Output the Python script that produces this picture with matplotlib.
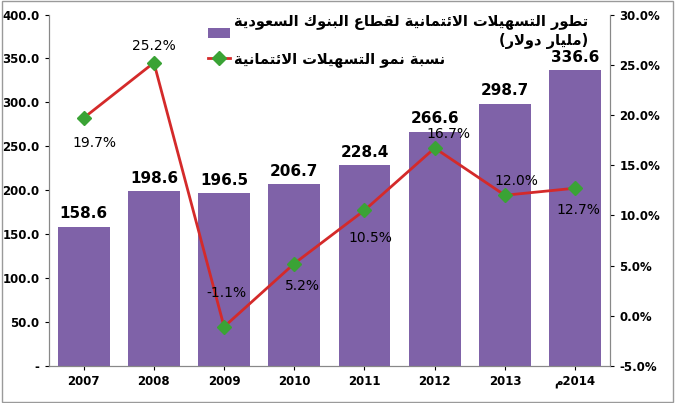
import matplotlib.pyplot as plt
from matplotlib.patches import Rectangle

# minimal arabic shaping (matplotlib has no complex text layout)
FORMS = {
    'ا': (0xFE8D, 0xFE8E, None, None), 'ب': (0xFE8F, 0xFE90, 0xFE91, 0xFE92),
    'ة': (0xFE93, 0xFE94, None, None), 'ت': (0xFE95, 0xFE96, 0xFE97, 0xFE98),
    'د': (0xFEA9, 0xFEAA, None, None), 'ر': (0xFEAD, 0xFEAE, None, None),
    'س': (0xFEB1, 0xFEB2, 0xFEB3, 0xFEB4), 'ط': (0xFEC1, 0xFEC2, 0xFEC3, 0xFEC4),
    'ع': (0xFEC9, 0xFECA, 0xFECB, 0xFECC), 'ق': (0xFED5, 0xFED6, 0xFED7, 0xFED8),
    'ك': (0xFED9, 0xFEDA, 0xFEDB, 0xFEDC), 'ل': (0xFEDD, 0xFEDE, 0xFEDF, 0xFEE0),
    'م': (0xFEE1, 0xFEE2, 0xFEE3, 0xFEE4), 'ن': (0xFEE5, 0xFEE6, 0xFEE7, 0xFEE8),
    'ه': (0xFEE9, 0xFEEA, 0xFEEB, 0xFEEC), 'و': (0xFEED, 0xFEEE, None, None),
    'ي': (0xFEF1, 0xFEF2, 0xFEF3, 0xFEF4), 'ئ': (0xFE89, 0xFE8A, 0xFE8B, 0xFE8C),
    'لا': (0xFEFB, 0xFEFC, None, None),
}
MIRROR = {'(': ')', ')': '('}


def shape(text):
    # split into units, merging lam-alef
    units = []
    i = 0
    while i < len(text):
        if text[i] == 'ل' and i + 1 < len(text) and text[i + 1] == 'ا':
            units.append('لا')
            i += 2
        else:
            units.append(text[i])
            i += 1
    out = []
    for k, u in enumerate(units):
        if u not in FORMS:
            out.append(MIRROR.get(u, u))
            continue
        iso, fin, ini, med = FORMS[u]
        prev = units[k - 1] if k > 0 else None
        nxt = units[k + 1] if k + 1 < len(units) else None
        join_prev = prev in FORMS and FORMS[prev][2] is not None
        join_next = nxt in FORMS and ini is not None
        if join_prev and join_next:
            c = med
        elif join_prev:
            c = fin
        elif join_next:
            c = ini
        else:
            c = iso
        out.append(chr(c))
    return ''.join(reversed(out))


years = ['2007', '2008', '2009', '2010', '2011', '2012', '2013', 'م2014']
credit = [158.6, 198.6, 196.5, 206.7, 228.4, 266.6, 298.7, 336.6]
growth = [19.7, 25.2, -1.1, 5.2, 10.5, 16.7, 12.0, 12.7]
bar_name = 'تطور التسهيلات الائتمانية لقطاع البنوك السعودية'
bar_unit = '(مليار دولار)'
line_name = 'نسبة نمو التسهيلات الائتمانية'

# label offsets in points (dx, dy)
offs = [(8, -18), (0, 12), (2, 24), (6, -16), (4, -20), (10, 10), (8, 10), (2, -16)]

plt.rcParams['font.family'] = ['DejaVu Sans']
fig = plt.figure(figsize=(6.75, 4.03), dpi=100)
fig.patches.append(Rectangle((0.003, 0.003), 0.994, 0.994, transform=fig.transFigure,
                             fill=False, ec='#9a9a9a', lw=1))
ax = fig.add_axes([0.072, 0.092, 0.832, 0.872])
ax2 = ax.twinx()
x = range(len(years))
bars = ax.bar(x, credit, width=0.74, color='#7f62a8', zorder=2)
for xi, v in zip(x, credit):
    ax.text(xi, v + 6, f'{v:.1f}', ha='center', va='bottom', fontsize=11, fontweight='bold')
ax.set_ylim(0, 400)
ax.set_yticks(range(0, 401, 50))
ax.set_yticklabels(['-'] + [f'{v:.1f}' for v in range(50, 401, 50)])
ax.set_xlim(-0.5, len(years) - 0.5)
ax.set_xticks(list(x))
ax.set_xticklabels(years)
for a in (ax, ax2):
    a.tick_params(labelsize=8.5, length=3)
    for s in a.spines.values():
        s.set_color('#888888')
    a.spines['top'].set_visible(False)
for t in ax.get_yticklabels() + ax.get_xticklabels() + ax2.get_yticklabels():
    t.set_fontweight('bold')

ln, = ax2.plot(x, growth, color='#d42a2a', lw=2, marker='D', ms=7,
               mfc='#3aa335', mec='#3aa335', zorder=3)
ax2.set_ylim(-5, 30)
ax2.set_yticks(range(-5, 31, 5))
ax2.set_yticklabels([f'{v:.1f}%' for v in range(-5, 31, 5)])
for xi, g, (dx, dy) in zip(x, growth, offs):
    ax2.annotate(f'{g:.1f}%', (xi, g), xytext=(dx, dy), textcoords='offset points',
                 ha='center', va='center', fontsize=10)

leg = ax2.legend([bars, ln], [shape(bar_name) + '\n' + shape(bar_unit), shape(line_name)],
                 loc='upper left', bbox_to_anchor=(0.26, 1.035), markerfirst=True,
                 frameon=False, prop={'weight': 'bold', 'size': 10.5}, handlelength=1.5,
                 handletextpad=0.3, labelspacing=0.15)
for t in leg.get_texts():
    t.set_multialignment('right')

fig.savefig('out.png')
